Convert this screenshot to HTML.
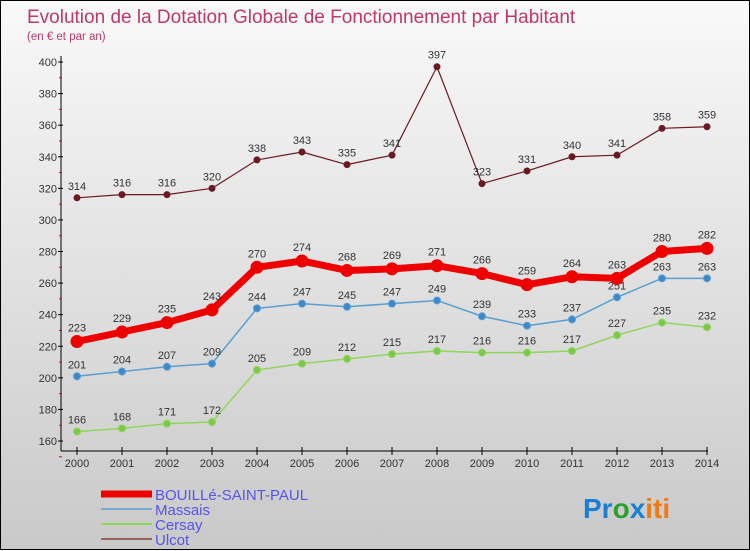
<!DOCTYPE html>
<html><head><meta charset="utf-8"><style>
html,body{margin:0;padding:0}
body{width:750px;height:550px;overflow:hidden;font-family:"Liberation Sans",sans-serif}
#wrap{position:relative;width:748px;height:548px;border:1px solid #000;background:linear-gradient(#f9f9f9,#c9c9c9)}
svg{position:absolute;left:0;top:0}
</style></head><body>
<div id="wrap">
<svg id="chart" width="750" height="550">
<text x="26" y="22" font-size="19" fill="#c0386a">Evolution de la Dotation Globale de Fonctionnement par Habitant</text>
<text x="26" y="39" font-size="11.5" fill="#c0386a">(en € et par an)</text>
<g id="axes"></g><g id="series"></g><g id="legend"></g>
<text x="582" y="517" font-size="28" font-weight="bold"><tspan fill="#1a7fd0">Pr</tspan><tspan fill="#2ca02c">o</tspan><tspan fill="#1a7fd0">x</tspan><tspan fill="#f07a10">iti</tspan></text>
</svg></div>
<script>
const years=[2000,2001,2002,2003,2004,2005,2006,2007,2008,2009,2010,2011,2012,2013,2014];
const yTicks=[160,180,200,220,240,260,280,300,320,340,360,380,400];
const bouille=[223,229,235,243,270,274,268,269,271,266,259,264,263,280,282];
const massais=[201,204,207,209,244,247,245,247,249,239,233,237,251,263,263];
const cersay=[166,168,171,172,205,209,212,215,217,216,216,217,227,235,232];
const ulcot=[314,316,316,320,338,343,335,341,397,323,331,340,341,358,359];
const NS='http://www.w3.org/2000/svg';
function xS(i){return 76+i*45;}
function yS(v){return 440-(v-160)*(379/240);}
function mk(tag,attrs,parent,txt){const e=document.createElementNS(NS,tag);for(const k in attrs)e.setAttribute(k,attrs[k]);if(txt!==undefined)e.textContent=txt;parent.appendChild(e);return e;}
const axes=document.getElementById('axes');
let a=mk('line',{x1:60,y1:55,x2:60,y2:450,stroke:'#000'},axes);

a=mk('line',{x1:60,y1:450,x2:707,y2:450,stroke:'#000'},axes);

yTicks.forEach(v=>{const y=yS(v);
mk('line',{x1:57,y1:y,x2:62,y2:y,stroke:'#000'},axes);
mk('line',{x1:58,y1:y+15.8,x2:61,y2:y+15.8,stroke:'#e00'},axes);
const t=mk('text',{x:56,y:y+4,'font-size':11,fill:'#333','text-anchor':'end'},axes,v);
});
years.forEach((yr,i)=>{const x=xS(i);
mk('line',{x1:x,y1:446,x2:x,y2:454,stroke:'#000'},axes);
const t=mk('text',{x:x,y:466,'font-size':11,fill:'#333','text-anchor':'middle'},axes,yr);
});
const ser=document.getElementById('series');
function draw(vals,color,dot,w,r,name,labelOff){
const g=mk('g',{},ser);
const pl=mk('polyline',{points:vals.map((v,i)=>xS(i)+','+yS(v)).join(' '),fill:'none',stroke:color,'stroke-width':w,'stroke-linejoin':'round'},g);

vals.forEach((v,i)=>{const c=mk('circle',{cx:xS(i),cy:yS(v),r:r,fill:dot,stroke:color,'stroke-width':1},g);

const t=mk('text',{x:xS(i),y:yS(v)-labelOff,'font-size':11,fill:'#333','text-anchor':'middle'},g,v);
});}
draw(ulcot,'#6b1a22','#6b1a22',1.2,3,'ulcot',8);
draw(cersay,'#8fd65a','#7cc84a',1.5,3.5,'cersay',8);
draw(massais,'#5a9fd0','#3f88c8',1.5,3.5,'massais',8);
draw(bouille,'#e00','#e00',7,6,'bouille',10);
const lg=document.getElementById('legend');
const items=[['BOUILLé-SAINT-PAUL','#e00',7],['Massais','#7aaad0',2],['Cersay','#8fd65a',2],['Ulcot','#9a6060',2]];
items.forEach((it,k)=>{const y=493+k*15;
const l=mk('line',{x1:100,y1:y,x2:151,y2:y,stroke:it[1],'stroke-width':it[2]},lg);

const t=mk('text',{x:154,y:y+6,'font-size':15,fill:'#5555ee'},lg,it[0]);
});
</script>
</body></html>
